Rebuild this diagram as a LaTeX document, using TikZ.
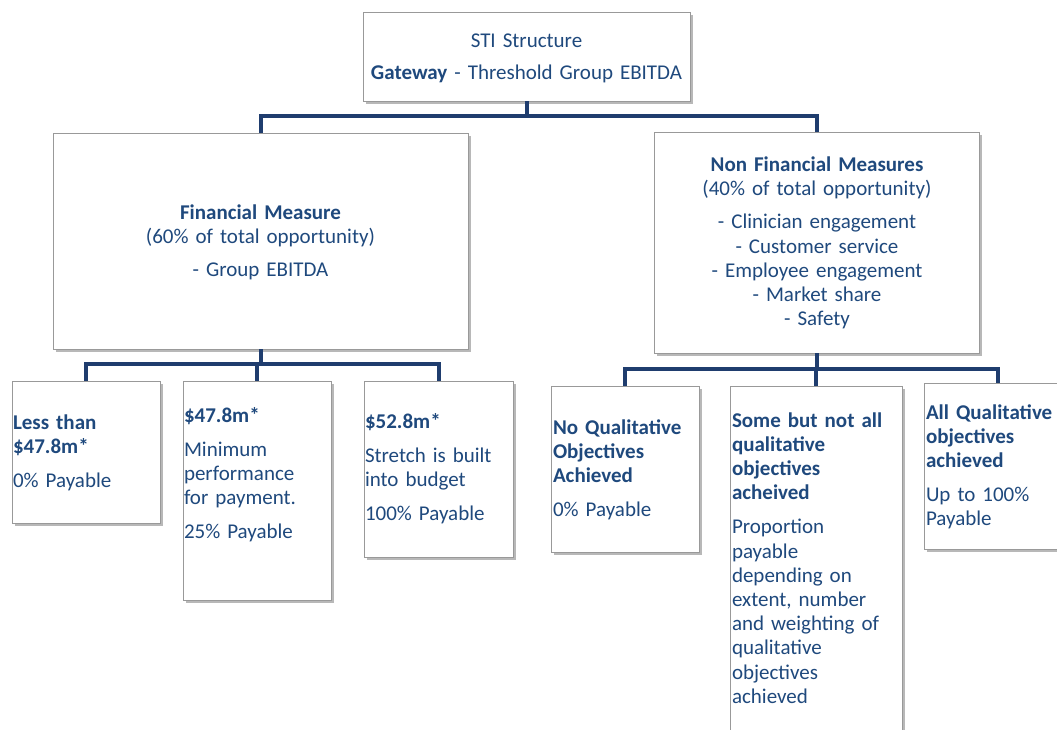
\documentclass[tikz,border=0pt]{standalone}
\usepackage{fontspec}
\setmainfont{Carlito}
\usetikzlibrary{shadows}
\definecolor{txtblue}{HTML}{1F497D}
\definecolor{navy}{HTML}{1F3D6E}
\begin{document}
\begin{tikzpicture}[x=1pt,y=-1pt,
 box/.style={draw=black!40, line width=0.8pt, fill=white, anchor=north west, inner sep=0pt, outer sep=0pt,
   drop shadow={shadow xshift=2.5pt, shadow yshift=-3pt, fill=black, opacity=0.28}},
 conn/.style={draw=navy, line width=4pt},
 txt/.style={text=txtblue, font=\fontsize{21}{24.2}\selectfont, inner sep=0pt, outer sep=0pt},
 ltxt/.style={txt, anchor=base west, text width=200pt, align=left},
 ctxt/.style={txt, anchor=base, text width=400pt, align=center}]
\useasboundingbox (0,0) rectangle (1057,729);
\fill[white] (0,0) rectangle (1057,729);
% boxes
\node[box, minimum width=327pt, minimum height=89pt] (top) at (363,12) {};
\node[box, minimum width=415pt, minimum height=216pt] (fin) at (53,133) {};
\node[box, minimum width=325pt, minimum height=221pt] (nonfin) at (654,132) {};
\node[box, minimum width=148pt, minimum height=142pt] (b1) at (12,381) {};
\node[box, minimum width=148pt, minimum height=219pt] (b2) at (183,381) {};
\node[box, minimum width=149pt, minimum height=176pt] (b3) at (364,381) {};
\node[box, minimum width=148pt, minimum height=166pt] (b4) at (551,386) {};
\node[box, minimum width=172pt, minimum height=380pt] (b5) at (730,386) {};
\node[box, minimum width=148pt, minimum height=166pt] (b6) at (924,383) {};
% connectors
\coordinate (j1) at (526.5,116);
\coordinate (j2) at (260.5,364);
\coordinate (j3) at (816.5,369);
\draw[conn] (top.south) -- (j1) -| (fin.north);
\draw[conn] (j1) -| (nonfin.north);
\draw[conn] (fin.south) -- (j2) -| (b1.north);
\draw[conn] (j2) -| (b2.north);
\draw[conn] (j2) -| (b3.north);
\draw[conn] (nonfin.south) -- (j3) -| (b4.north);
\draw[conn] (j3) -| (b5.north);
\draw[conn] (j3) -| (b6.north);
% texts
\node[ctxt] (ttop) at (526.5,47) {STI Structure\\[8.6pt]\textbf{Gateway} - Threshold Group EBITDA};
\node[ctxt] (tfin) at (260.5,219) {\textbf{Financial Measure}\\(60\% of total opportunity)\\[9pt]- Group EBITDA};
\node[ctxt] (tnon) at (817,171) {\textbf{Non Financial Measures}\\(40\% of total opportunity)\\[9.5pt]- Clinician engagement\\- Customer service\\- Employee engagement\\- Market share\\- Safety};
\node[ltxt] (t1) at (13,429) {\textbf{Less than}\\\textbf{\$47.8m*}\\[10pt]0\% Payable};
\node[ltxt] (t2) at (184,422) {\textbf{\$47.8m*}\\[10pt]Minimum\\performance\\for payment.\\[10pt]25\% Payable};
\node[ltxt] (t3) at (365,428) {\textbf{\$52.8m*}\\[10pt]Stretch is built\\into budget\\[10pt]100\% Payable};
\node[ltxt] (t4) at (553,434) {\textbf{No Qualitative}\\\textbf{Objectives}\\\textbf{Achieved}\\[10pt]0\% Payable};
\node[ltxt] (t5) at (732,427) {\textbf{Some but not all}\\\textbf{qualitative}\\\textbf{objectives}\\\textbf{acheived}\\[10pt]Proportion\\payable\\depending on\\extent, number\\and weighting of\\qualitative\\objectives\\achieved};
\node[ltxt] (t6) at (926,419) {\textbf{All Qualitative}\\\textbf{objectives}\\\textbf{achieved}\\[10pt]Up to 100\%\\Payable};
\end{tikzpicture}
\end{document}
